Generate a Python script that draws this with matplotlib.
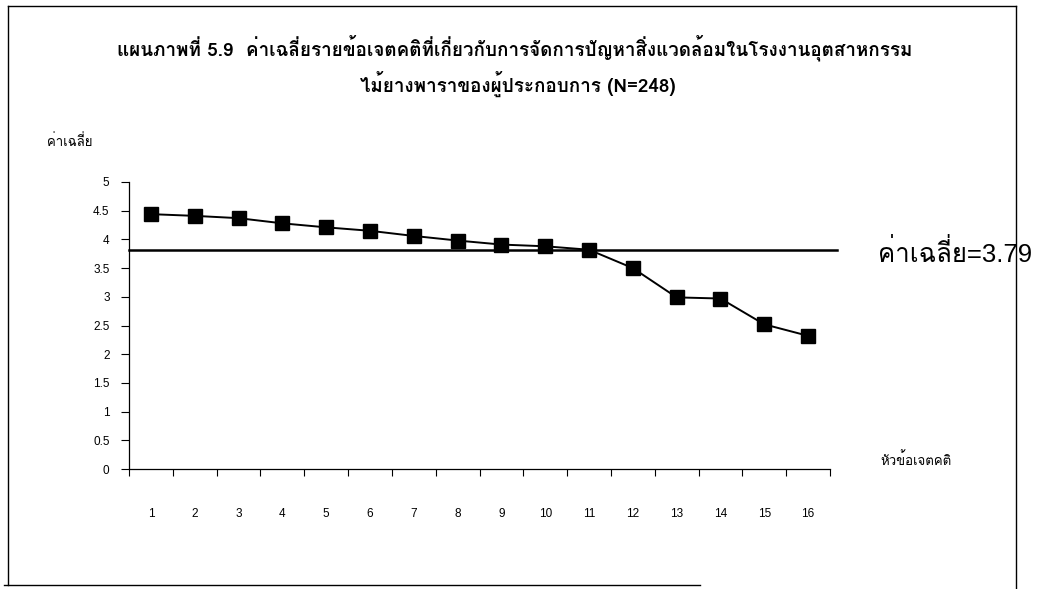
import matplotlib
matplotlib.use("Agg")
import matplotlib.pyplot as plt
import numpy as np

# ---- data ----
items = list(range(1, 17))
item_labels = [str(i) for i in items]
mean_scores = [4.44, 4.41, 4.37, 4.28, 4.21, 4.15, 4.06, 3.98,
               3.91, 3.88, 3.82, 3.50, 2.99, 2.97, 2.52, 2.32]
overall_mean = 3.82          # level at which the reference line is drawn
overall_mean_text = "ค่าเฉลี่ย=3.79"
y_ticks = [0, 0.5, 1, 1.5, 2, 2.5, 3, 3.5, 4, 4.5, 5]
y_tick_labels = ["0", "0.5", "1", "1.5", "2", "2.5", "3", "3.5", "4", "4.5", "5"]
title_line1 = "แผนภาพที่ 5.9  ค่าเฉลี่ยรายข้อเจตคติที่เกี่ยวกับการจัดการปัญหาสิ่งแวดล้อมในโรงงานอุตสาหกรรม"
title_line2 = "ไม้ยางพาราของผู้ประกอบการ (N=248)"
y_label = "ค่าเฉลี่ย"
x_label = "หัวข้อเจตคติ"

W, H = 1039, 589
fig = plt.figure(figsize=(W / 100, H / 100), dpi=100)
fig.patch.set_facecolor("white")

left, right = 129 / W, 830 / W
bottom, top = 1 - 469 / H, 1 - 182 / H
ax = fig.add_axes([left, bottom, right - left, top - bottom])

thai_font = ["Loma", "DejaVu Sans"]
num_font = ["Liberation Sans Narrow", "Liberation Sans", "DejaVu Sans"]

ax.plot(items, mean_scores, color="black", lw=1.4, marker="s", markersize=9.5,
        markerfacecolor="black", markeredgecolor="black", zorder=3, clip_on=False)
ax.plot([0.5, 16.66], [overall_mean, overall_mean], color="black", lw=1.8,
        zorder=2, clip_on=False)

ax.set_xlim(0.5, 16.5)
ax.set_ylim(0, 5)
ax.set_xticks(items)
ax.set_xticklabels(item_labels, fontfamily=num_font, fontsize=8.5)
ax.set_xticks(np.arange(0.5, 16.6, 1), minor=True)
ax.tick_params(axis="x", which="major", length=0, pad=28)
ax.tick_params(axis="x", which="minor", length=5, width=0.8, direction="out")
ax.set_yticks(y_ticks)
ax.set_yticklabels(y_tick_labels, fontfamily=num_font, fontsize=8.5)
ax.tick_params(axis="y", length=6, width=0.8, direction="out", pad=8)

for s in ["top", "right"]:
    ax.spines[s].set_visible(False)
for s in ["left", "bottom"]:
    ax.spines[s].set_linewidth(0.9)
    ax.spines[s].set_color("black")

# titles
t1 = fig.text(515 / W, 1 - 48 / H, title_line1, ha="center", va="center",
              fontfamily=thai_font, fontweight="bold", fontsize=12)
t2 = fig.text(518 / W, 1 - 84 / H, title_line2, ha="center", va="center",
              fontfamily=thai_font, fontweight="bold", fontsize=12)
fig.canvas.draw()
r = fig.canvas.get_renderer()
w1 = t1.get_window_extent(r).width
fs = 12 * 795 / w1
t1.set_fontsize(fs)
t2.set_fontsize(fs)

fig.text(47 / W, 1 - 142 / H, y_label, ha="left", va="center",
         fontfamily=thai_font, fontsize=9.5)
fig.text(880 / W, 1 - 460 / H, x_label, ha="left", va="center",
         fontfamily=thai_font, fontsize=9.5)
fig.text(878 / W, 1 - 253 / H, overall_mean_text, ha="left", va="center",
         fontfamily=["Liberation Sans", "Loma", "DejaVu Sans"], fontsize=18.5)

# outer frame (scanned page border)
frame_kw = dict(color="black", lw=1.0, transform=fig.transFigure, clip_on=False)
fig.add_artist(plt.Line2D([8 / W, 8 / W], [1 - 6 / H, 1 - 585 / H], **frame_kw))
fig.add_artist(plt.Line2D([8 / W, 1016 / W], [1 - 6 / H, 1 - 6 / H], **frame_kw))
fig.add_artist(plt.Line2D([1016 / W, 1016 / W], [1 - 6 / H, 1 - 589 / H], **frame_kw))
fig.add_artist(plt.Line2D([4 / W, 700 / W], [1 - 585 / H, 1 - 585 / H], **frame_kw))

fig.savefig("out.png", dpi=100, facecolor="white")
